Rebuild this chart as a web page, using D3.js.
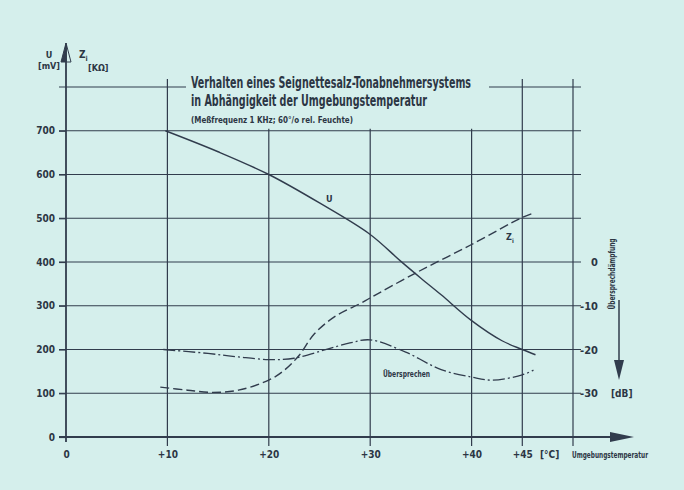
<!DOCTYPE html>
<html><head><meta charset="utf-8">
<script src="https://cdn.jsdelivr.net/npm/d3@7"></script>
<style>
html,body{margin:0;padding:0;background:#d5efec;}
svg{display:block;}
text{font-family:'Liberation Sans Narrow','DejaVu Sans Condensed','Liberation Sans',Arial,sans-serif;font-weight:bold;fill:#2c3644;}
</style></head>
<body>
<svg id="c" width="684" height="490"></svg>
<script>
// ---- data ----
const tempTicks = [0, 10, 20, 30, 40, 45];
const tempLabels = ["0", "+10", "+20", "+30", "+40", "+45"];
const uTicks = [0, 100, 200, 300, 400, 500, 600, 700];
const gridValues = [0, 100, 200, 300, 400, 500, 600, 700, 800];
const dbTicks = [0, -10, -20, -30];
const dbLabels = ["0", "-10", "-20", "-30"];

const uTemp   = [9.8, 15, 20, 25, 30, 33, 35, 37, 40, 43, 45, 46.3];
const uValues = [700, 652, 600, 535, 463, 402, 363, 325, 266, 220, 200, 188];

const ziTemp   = [9.3, 12, 14.5, 17, 20, 21.5, 23, 24.5, 26.5, 29, 30, 34.5, 40, 45, 46];
const ziValues = [114, 107, 102, 107, 130, 152, 187, 236, 275, 305, 318, 375, 440, 502, 511];

const xtTemp = [9.6, 14, 17, 20, 22.5, 25.5, 28, 30, 33.5, 37, 40, 42, 45, 46.1];
const xtDb   = [-20, -20.9, -21.7, -22.3, -22, -20.1, -18.5, -17.8, -20.6, -24.6, -26.3, -27, -25.8, -24.7];

// ---- scales ----
const ink = "#313c4d";
const svg = d3.select("#c");
const x = d3.scaleLinear().domain([0, 50]).range([66, 573]);
const y = d3.scaleLinear().domain([0, 800]).range([437, 87]);
const yDb = d3.scaleLinear().domain([-30, 0]).range([y(100), y(400)]);
const gridRight = 581;

// horizontal grid lines
svg.append("g").selectAll("line").data(gridValues).join("line")
  .attr("x1", 59).attr("x2", gridRight)
  .attr("y1", d => y(d)).attr("y2", d => y(d))
  .attr("stroke", ink).attr("stroke-width", d => d === 0 ? 0 : 1.2);

// vertical grid lines
svg.append("g").selectAll("line").data([10, 20, 30, 40, 45, 50]).join("line")
  .attr("x1", d => x(d)).attr("x2", d => x(d))
  .attr("y1", y(800) - 8).attr("y2", y(0) + 9)
  .attr("stroke", ink).attr("stroke-width", 1.2);

// title mask
svg.append("rect").attr("x", 186).attr("y", 76).attr("width", 303).attr("height", y(700) - 78)
  .attr("fill", "#d5efec");

// y axis (left) with labels
const yAxis = d3.axisLeft(y).tickValues(uTicks).tickSize(7).tickPadding(4);
const gy = svg.append("g").attr("transform", `translate(${x(0)},0)`).call(yAxis);
gy.select(".domain").remove();
gy.selectAll(".tick line").attr("stroke", ink).attr("stroke-width", 1.2);
gy.selectAll(".tick text").style("font-size", "10px").attr("fill", "#2c3644");

svg.append("line").attr("x1", x(0)).attr("x2", x(0)).attr("y1", y(0) + 5).attr("y2", 45)
  .attr("stroke", ink).attr("stroke-width", 1.8);
svg.append("path").attr("d", `M${x(0)},43 L${x(0) - 5},62 L${x(0)},62 Z`).attr("fill", ink).attr("stroke", ink).attr("stroke-width", 1);
svg.append("path").attr("d", `M${x(0)},43 L${x(0) + 5},62 L${x(0)},62 Z`).attr("fill", "none").attr("stroke", ink).attr("stroke-width", 1);

// x axis
const xAxis = d3.axisBottom(x).tickValues(tempTicks).tickFormat((d, i) => tempLabels[i]).tickSize(0).tickPadding(14);
const gx = svg.append("g").attr("transform", `translate(0,${y(0)})`).call(xAxis);
gx.select(".domain").remove();
gx.selectAll(".tick text").style("font-size", "10px").attr("fill", "#2c3644");
svg.append("line").attr("x1", 59).attr("x2", 614).attr("y1", y(0)).attr("y2", y(0))
  .attr("stroke", ink).attr("stroke-width", 1.8);
svg.append("path").attr("d", `M634,${y(0)} L610,${y(0) - 5} L610,${y(0) + 5} Z`).attr("fill", ink);
svg.append("text").attr("x", 540).attr("y", y(0) + 21).style("font-size", "10px").text("[°C]");
svg.append("text").attr("x", 572).attr("y", y(0) + 21).style("font-size", "8px")
  .attr("textLength", 76).attr("lengthAdjust", "spacingAndGlyphs").text("Umgebungstemperatur");

// right dB axis
const dbAxis = d3.axisRight(yDb).tickValues(dbTicks).tickFormat((d, i) => dbLabels[i]).tickSize(0).tickPadding(0);
const gd = svg.append("g").attr("transform", `translate(${gridRight},0)`).call(dbAxis);
gd.select(".domain").remove();
gd.selectAll(".tick text").style("font-size", "11px").attr("text-anchor", "end").attr("x", 17).attr("fill", "#2c3644");
svg.append("text").attr("x", 611).attr("y", yDb(-30) + 4).style("font-size", "10px").text("[dB]");
svg.append("text").attr("transform", `translate(615,274) rotate(-90)`).attr("text-anchor", "middle")
  .style("font-size", "8px").attr("textLength", 71).attr("lengthAdjust", "spacingAndGlyphs").text("Übersprechdämpfung");
svg.append("line").attr("x1", 619).attr("x2", 619).attr("y1", 300).attr("y2", 362).attr("stroke", ink).attr("stroke-width", 1.5);
svg.append("path").attr("d", "M614,360 L624,360 L619,380 Z").attr("fill", ink);

// axis unit labels
svg.append("text").attr("x", 49).attr("y", 58).attr("text-anchor", "middle").style("font-size", "9px").text("U");
svg.append("text").attr("x", 49).attr("y", 69).attr("text-anchor", "middle").style("font-size", "9px").text("[mV]");
const zl = svg.append("text").attr("x", 79).attr("y", 58).style("font-size", "10px");
zl.append("tspan").text("Z");
zl.append("tspan").attr("dy", 3).style("font-size", "7px").text("i");
svg.append("text").attr("x", 88).attr("y", 71).style("font-size", "9px").text("[KΩ]");

// title
svg.append("text").attr("x", 191).attr("y", 88).style("font-size", "15px")
  .attr("textLength", 280).attr("lengthAdjust", "spacingAndGlyphs").text("Verhalten eines Seignettesalz-Tonabnehmersystems");
svg.append("text").attr("x", 191).attr("y", 106).style("font-size", "15px")
  .attr("textLength", 236).attr("lengthAdjust", "spacingAndGlyphs").text("in Abhängigkeit der Umgebungstemperatur");
svg.append("text").attr("x", 191).attr("y", 123).style("font-size", "9px")
  .attr("textLength", 162).attr("lengthAdjust", "spacingAndGlyphs").text("(Meßfrequenz 1 KHz;  60°/o rel. Feuchte)");

// curves
const line = d3.line().curve(d3.curveCatmullRom.alpha(0.5));
svg.append("path").attr("d", line(uTemp.map((t, i) => [x(t), y(uValues[i])])))
  .attr("fill", "none").attr("stroke", ink).attr("stroke-width", 1.4);
svg.append("path").attr("d", line(ziTemp.map((t, i) => [x(t), y(ziValues[i])])))
  .attr("fill", "none").attr("stroke", ink).attr("stroke-width", 1.4).attr("stroke-dasharray", "9,4");
svg.append("path").attr("d", line(xtTemp.map((t, i) => [x(t), yDb(xtDb[i])])))
  .attr("fill", "none").attr("stroke", ink).attr("stroke-width", 1.3).attr("stroke-dasharray", "12,3,2,3");

// curve labels
svg.append("text").attr("x", 326).attr("y", 202).style("font-size", "9px").text("U");
const zc = svg.append("text").attr("x", 506).attr("y", 240).style("font-size", "9px");
zc.append("tspan").text("Z");
zc.append("tspan").attr("dy", 3).style("font-size", "6px").text("i");
svg.append("text").attr("x", 383).attr("y", 377).style("font-size", "8px")
  .attr("textLength", 47).attr("lengthAdjust", "spacingAndGlyphs").text("Übersprechen");
</script>
</body></html>
